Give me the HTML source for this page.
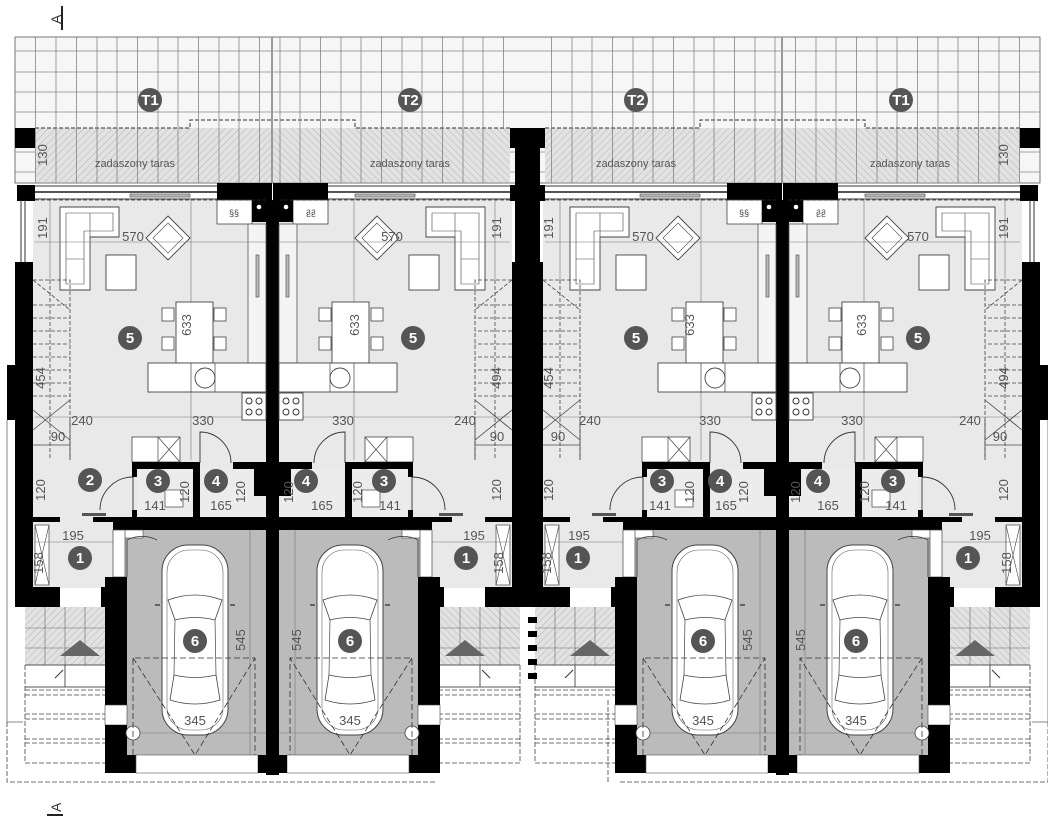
<!DOCTYPE html>
<html><head><meta charset="utf-8"><style>
html,body{margin:0;padding:0;background:#fff;}
svg{display:block;}
text{font-family:"Liberation Sans",sans-serif;}
.d{font-size:13px;fill:#555;}
.n{font-size:15px;font-weight:bold;fill:#fff;}
</style></head><body>
<svg width="1048" height="824" viewBox="0 0 1048 824" xmlns="http://www.w3.org/2000/svg">
<defs>
<pattern id="h" width="5" height="5" patternUnits="userSpaceOnUse" patternTransform="rotate(45)">
<rect width="5" height="5" fill="#e2e2e2"/><line x1="0" y1="0" x2="0" y2="5" stroke="#aaa" stroke-width="0.8"/></pattern>
<g id="u">
 <rect x="35" y="128" width="237" height="54" fill="url(#h)"/>
 <path d="M35,128 H190 V120 H272" fill="none" stroke="#333" stroke-dasharray="4,2" stroke-width="1"/>
 <rect x="15" y="128" width="20" height="20" fill="#000"/>
 <rect x="33" y="200" width="235" height="320" fill="#e9e9e9"/>
 <rect x="33" y="520" width="80" height="68" fill="#e9e9e9"/>
 <rect x="17" y="185" width="18" height="16" fill="#000"/>
 <line x1="35" y1="186" x2="217" y2="186" stroke="#333"/>
 <line x1="35" y1="192" x2="217" y2="192" stroke="#555" stroke-width="2"/>
 <line x1="35" y1="199" x2="217" y2="199" stroke="#333"/>
 <rect x="130" y="194" width="60" height="3" fill="#bbb" stroke="#444" stroke-width="0.6"/>
 <rect x="217" y="183" width="55" height="17" fill="#000"/>
 <line x1="21" y1="200" x2="21" y2="262" stroke="#333"/>
 <line x1="25" y1="200" x2="25" y2="262" stroke="#333"/>
 <rect x="15" y="262" width="18" height="345" fill="#000"/>
 <rect x="7" y="365" width="9" height="55" fill="#000"/>
 <rect x="266" y="200" width="7" height="575" fill="#000"/>
 <rect x="217" y="200" width="35" height="24" fill="#fff" stroke="#444" stroke-width="0.8"/>
 <text x="229" y="216" font-size="9" fill="#444">§§</text>
 <rect x="252" y="200" width="14" height="22" fill="#000"/>
 <circle cx="259" cy="207" r="2.3" fill="#fff"/>
 <rect x="248" y="224" width="18" height="139" fill="#f4f4f4" stroke="#555" stroke-width="0.8"/>
 <rect x="256" y="255" width="3" height="42" fill="#bbb" stroke="#444" stroke-width="0.6"/>
 <path d="M60,207 H119 V237 H90 V290 H60 Z" fill="#fff" stroke="#444" stroke-width="0.9"/>
 <path d="M66,213 H113 V231 H84 V284 H66 Z" fill="#fff" stroke="#444" stroke-width="0.6"/>
 <line x1="90" y1="213" x2="90" y2="237" stroke="#444" stroke-width="0.6"/>
 <line x1="66" y1="259" x2="84" y2="259" stroke="#444" stroke-width="0.6"/>
 <rect x="106" y="255" width="30" height="35" fill="#fff" stroke="#444" stroke-width="0.9"/>
 <path d="M168,216 L190,238 L168,260 L146,238 Z" fill="#fff" stroke="#444" stroke-width="0.9"/>
 <path d="M168,223 L183,238 L168,253 L153,238 Z" fill="none" stroke="#444" stroke-width="0.6"/>
 <line x1="35" y1="242" x2="266" y2="242" stroke="#777" stroke-width="0.6"/>
 <line x1="50" y1="200" x2="50" y2="280" stroke="#777" stroke-width="0.6"/>
 <line x1="191" y1="200" x2="191" y2="460" stroke="#777" stroke-width="0.6"/>
 <line x1="35" y1="417" x2="266" y2="417" stroke="#777" stroke-width="0.6"/>
 <line x1="35" y1="200" x2="266" y2="200" stroke="#333" stroke-dasharray="4,2" stroke-width="0.7"/>
 <rect x="176" y="302" width="37" height="61" fill="#fff" stroke="#444" stroke-width="0.9"/>
 <rect x="162" y="308" width="12" height="13" fill="#fff" stroke="#444" stroke-width="0.8"/>
 <rect x="162" y="337" width="12" height="13" fill="#fff" stroke="#444" stroke-width="0.8"/>
 <rect x="214" y="308" width="12" height="13" fill="#fff" stroke="#444" stroke-width="0.8"/>
 <rect x="214" y="337" width="12" height="13" fill="#fff" stroke="#444" stroke-width="0.8"/>
 <rect x="148" y="363" width="118" height="29" fill="#fff" stroke="#444" stroke-width="0.9"/>
 <line x1="191" y1="363" x2="191" y2="392" stroke="#444" stroke-width="0.7"/>
 <line x1="215" y1="363" x2="215" y2="392" stroke="#444" stroke-width="0.7"/>
 <circle cx="205" cy="378" r="10" fill="#fff" stroke="#444" stroke-width="0.9"/>
 <rect x="242" y="393" width="24" height="27" fill="#fff" stroke="#444" stroke-width="0.9"/>
 <circle cx="249" cy="401" r="3" fill="none" stroke="#333"/><circle cx="259" cy="401" r="3" fill="none" stroke="#333"/>
 <circle cx="249" cy="412" r="3" fill="none" stroke="#333"/><circle cx="259" cy="412" r="3" fill="none" stroke="#333"/>
 <g stroke="#444" stroke-width="0.8" stroke-dasharray="4,2" fill="none">
  <path d="M33,280 H70 V460"/>
  <line x1="50" y1="280" x2="50" y2="460"/>
  <line x1="33" y1="305" x2="70" y2="305"/><line x1="33" y1="318" x2="70" y2="318"/>
  <line x1="33" y1="331" x2="70" y2="331"/><line x1="33" y1="344" x2="70" y2="344"/>
  <line x1="33" y1="357" x2="70" y2="357"/><line x1="33" y1="370" x2="70" y2="370"/>
  <line x1="33" y1="383" x2="70" y2="383"/><line x1="33" y1="396" x2="70" y2="396"/>
  <line x1="33" y1="280" x2="70" y2="310"/>
 </g>
 <g stroke="#444" stroke-width="0.8" fill="none">
  <line x1="33" y1="430" x2="70" y2="400"/><line x1="33" y1="410" x2="70" y2="440"/>
  <line x1="33" y1="445" x2="70" y2="445"/><line x1="70" y1="420" x2="70" y2="460"/>
 </g>
 <rect x="132" y="437" width="48" height="25" fill="#fff" stroke="#444" stroke-width="0.8"/>
 <path d="M158,437 V462 M158,437 L180,462 M180,437 L158,462" stroke="#444" stroke-width="0.7"/>
 <rect x="132" y="462" width="68" height="7" fill="#000"/>
 <rect x="132" y="462" width="5" height="15" fill="#000"/>
 <rect x="132" y="510" width="5" height="10" fill="#000"/>
 <rect x="193" y="462" width="7" height="58" fill="#000"/>
 <rect x="233" y="462" width="33" height="7" fill="#000"/>
 <rect x="137" y="469" width="56" height="48" fill="#ececec"/>
 <rect x="200" y="469" width="66" height="48" fill="#ececec"/>
 <rect x="165" y="490" width="18" height="17" fill="#fff" stroke="#444" stroke-width="0.7"/>
 <rect x="254" y="466" width="12" height="30" fill="#000"/>
 <path d="M100,510 A33,33 0 0 1 133,477 M133,477 V510" fill="none" stroke="#333" stroke-width="0.9"/>
 <path d="M200,463 V432 A31,31 0 0 1 231,463" fill="none" stroke="#333" stroke-width="0.9"/>
 <rect x="33" y="517" width="27" height="5" fill="#000"/>
 <rect x="93" y="517" width="20" height="5" fill="#000"/>
 <rect x="82" y="513" width="24" height="3" fill="#555"/>
 <rect x="113" y="517" width="160" height="13" fill="#000"/>
 <rect x="35" y="525" width="14" height="60" fill="#fff" stroke="#444" stroke-width="0.7"/>
 <path d="M35,525 L49,585 M49,525 L35,585" stroke="#444" stroke-width="0.6"/>
 <line x1="35" y1="542" x2="113" y2="542" stroke="#777" stroke-width="0.6"/>
 <rect x="125" y="530" width="141" height="225" fill="#bbbbbb"/>
 <rect x="123" y="530" width="20" height="8" fill="#fff" stroke="#444" stroke-width="0.6"/>
 <rect x="113" y="530" width="12" height="47" fill="#fff" stroke="#444" stroke-width="0.7"/>
 <path d="M127,577 L127,540 A33,33 0 0 1 157,540" fill="none" stroke="#333" stroke-width="0.8"/>
 <rect x="105" y="577" width="22" height="128" fill="#000"/>
 <rect x="105" y="705" width="22" height="20" fill="#fff" stroke="#444" stroke-width="0.6"/>
 <rect x="105" y="725" width="22" height="48" fill="#000"/>
 <rect x="127" y="755" width="9" height="18" fill="#000"/>
 <rect x="136" y="755" width="122" height="18" fill="#fff" stroke="#555" stroke-width="0.6"/>
 <rect x="258" y="755" width="15" height="18" fill="#000"/>
 <line x1="133" y1="733" x2="266" y2="733" stroke="#777" stroke-width="0.6"/>
 <line x1="250" y1="530" x2="250" y2="755" stroke="#777" stroke-width="0.6"/>
 <circle cx="133" cy="733" r="7" fill="#fff" stroke="#444" stroke-width="0.8"/>
 <rect x="162" y="545" width="66" height="190" rx="26" fill="#fff" stroke="#444" stroke-width="1"/>
 <rect x="167" y="550" width="56" height="180" rx="22" fill="none" stroke="#666" stroke-width="0.6"/>
 <path d="M168,600 Q195,590 222,600 L215,620 Q195,615 175,620 Z" fill="#fff" stroke="#444" stroke-width="0.8"/>
 <path d="M174,675 Q195,680 216,675 L220,700 Q195,708 170,700 Z" fill="#fff" stroke="#444" stroke-width="0.8"/>
 <line x1="175" y1="620" x2="174" y2="675" stroke="#444" stroke-width="0.7"/>
 <line x1="215" y1="620" x2="216" y2="675" stroke="#444" stroke-width="0.7"/>
 <path d="M160,605 h-5 M230,605 h5" stroke="#444" stroke-width="1.5"/>
 <g stroke="#333" stroke-width="0.8" stroke-dasharray="6,3" fill="none">
  <path d="M133,755 V658 H255 V755"/>
  <path d="M133,658 L195,755 L255,658"/>
 </g>
 <rect x="15" y="587" width="45" height="20" fill="#000"/>
 <rect x="101" y="587" width="12" height="20" fill="#000"/>
 <path d="M60,607 A42,42 0 0 0 102,640 V607" fill="none" stroke="#333" stroke-width="0.8"/>
 <rect x="25" y="607" width="80" height="58" fill="url(#h)"/>
 <g stroke="#666" stroke-width="0.6"><line x1="25" y1="628" x2="105" y2="628"/><line x1="25" y1="648" x2="105" y2="648"/>
 <line x1="45" y1="607" x2="45" y2="665"/><line x1="65" y1="607" x2="65" y2="665"/><line x1="85" y1="607" x2="85" y2="665"/></g>
 <path d="M60,656 L100,656 L80,640 Z" fill="#666"/>
 <line x1="25" y1="665" x2="105" y2="665" stroke="#555"/>
 <line x1="25" y1="687" x2="105" y2="687" stroke="#555"/>
 <line x1="65" y1="665" x2="65" y2="687" stroke="#555"/>
 <line x1="55" y1="678" x2="63" y2="670" stroke="#333"/>
 <g stroke="#444" stroke-width="0.8" stroke-dasharray="5,2" fill="none">
  <line x1="25" y1="690" x2="105" y2="690"/><line x1="25" y1="695" x2="105" y2="695"/>
  <line x1="25" y1="714" x2="105" y2="714"/><line x1="25" y1="719" x2="105" y2="719"/>
  <line x1="25" y1="739" x2="105" y2="739"/><line x1="25" y1="743" x2="105" y2="743"/>
  <path d="M25,665 V763 H105"/>
 </g>
</g>
<g id="pair">
 <use href="#u"/>
 <use href="#u" transform="translate(545,0) scale(-1,1)"/>
 <rect x="515" y="128" width="12.5" height="477" fill="#000"/>
</g>
</defs>

<rect x="15" y="37" width="1025" height="146" fill="#f6f6f6" stroke="#555" stroke-width="0.8"/>
<g stroke="#888" stroke-width="0.7">
<line x1="15" y1="51" x2="1040" y2="51"/><line x1="15" y1="72" x2="1040" y2="72"/><line x1="15" y1="92" x2="1040" y2="92"/><line x1="15" y1="112" x2="1040" y2="112"/><line x1="15" y1="132" x2="1040" y2="132"/><line x1="15" y1="152" x2="1040" y2="152"/><line x1="15" y1="172" x2="1040" y2="172"/>
</g>
<use href="#pair"/>
<use href="#pair" transform="translate(1055,0) scale(-1,1)"/>
<g stroke="#999" stroke-width="1.2" fill="none">
 <line x1="7" y1="420" x2="7" y2="722"/><line x1="7" y1="722" x2="23" y2="722"/>
 <line x1="1048" y1="420" x2="1048" y2="722"/><line x1="1048" y1="722" x2="1032" y2="722"/>
</g>
<g stroke="#444" stroke-width="0.8" stroke-dasharray="5,2" fill="none">
 <path d="M7,722 V782 H437"/>
 <path d="M1048,722 V782 H618"/>
 <path d="M608,700 V782"/>
</g>
<g stroke="#777" stroke-width="0.7">
<line x1="35.5" y1="37" x2="35.5" y2="183"/><line x1="56" y1="37" x2="56" y2="183"/><line x1="76.5" y1="37" x2="76.5" y2="183"/><line x1="97" y1="37" x2="97" y2="183"/><line x1="117" y1="37" x2="117" y2="183"/><line x1="137.5" y1="37" x2="137.5" y2="183"/><line x1="158" y1="37" x2="158" y2="183"/><line x1="178" y1="37" x2="178" y2="183"/><line x1="198.5" y1="37" x2="198.5" y2="183"/><line x1="219" y1="37" x2="219" y2="183"/><line x1="239" y1="37" x2="239" y2="183"/><line x1="259.5" y1="37" x2="259.5" y2="183"/><line x1="280" y1="37" x2="280" y2="183"/><line x1="300" y1="37" x2="300" y2="183"/><line x1="320.5" y1="37" x2="320.5" y2="183"/><line x1="341" y1="37" x2="341" y2="183"/><line x1="361" y1="37" x2="361" y2="183"/><line x1="381.5" y1="37" x2="381.5" y2="183"/><line x1="402" y1="37" x2="402" y2="183"/><line x1="422" y1="37" x2="422" y2="183"/><line x1="442.5" y1="37" x2="442.5" y2="183"/><line x1="463" y1="37" x2="463" y2="183"/><line x1="483" y1="37" x2="483" y2="183"/><line x1="503.5" y1="37" x2="503.5" y2="128"/>
<line x1="551.5" y1="37" x2="551.5" y2="183"/><line x1="572" y1="37" x2="572" y2="183"/><line x1="592" y1="37" x2="592" y2="183"/><line x1="612.5" y1="37" x2="612.5" y2="183"/><line x1="633" y1="37" x2="633" y2="183"/><line x1="653" y1="37" x2="653" y2="183"/><line x1="673.5" y1="37" x2="673.5" y2="183"/><line x1="694" y1="37" x2="694" y2="183"/><line x1="714" y1="37" x2="714" y2="183"/><line x1="734.5" y1="37" x2="734.5" y2="183"/><line x1="755" y1="37" x2="755" y2="183"/><line x1="775" y1="37" x2="775" y2="183"/><line x1="795.5" y1="37" x2="795.5" y2="183"/><line x1="816" y1="37" x2="816" y2="183"/><line x1="836" y1="37" x2="836" y2="183"/><line x1="856.5" y1="37" x2="856.5" y2="183"/><line x1="877" y1="37" x2="877" y2="183"/><line x1="897" y1="37" x2="897" y2="183"/><line x1="917.5" y1="37" x2="917.5" y2="183"/><line x1="938" y1="37" x2="938" y2="183"/><line x1="958" y1="37" x2="958" y2="183"/><line x1="978.5" y1="37" x2="978.5" y2="183"/><line x1="999" y1="37" x2="999" y2="183"/><line x1="1019.5" y1="37" x2="1019.5" y2="183"/>
</g>
<g stroke="#999" stroke-width="2"><line x1="272" y1="37" x2="272" y2="183"/><line x1="782" y1="37" x2="782" y2="183"/></g>
<rect x="515" y="128" width="25" height="477" fill="#000"/>
<g fill="#000"><rect x="528" y="617" width="9" height="6"/><rect x="528" y="631" width="9" height="6"/><rect x="528" y="645" width="9" height="6"/><rect x="528" y="659" width="9" height="6"/><rect x="528" y="673" width="9" height="6"/></g>

<text x="0" y="0" font-size="14" fill="#333" transform="translate(61,24) rotate(-90)">A</text>
<rect x="61" y="6" width="2" height="24" fill="#222"/>
<text x="0" y="0" font-size="14" fill="#333" transform="translate(61,812) rotate(-90)">A</text>
<rect x="47" y="814" width="16" height="2" fill="#222"/>

<g fill="#555">
<circle cx="150" cy="100" r="12"/><circle cx="410" cy="100" r="12"/><circle cx="636" cy="100" r="12"/><circle cx="901" cy="100" r="12"/>
<circle cx="130" cy="338" r="12"/><circle cx="413" cy="338" r="12"/><circle cx="636" cy="338" r="12"/><circle cx="918" cy="338" r="12"/>
<circle cx="90" cy="480" r="12"/>
<circle cx="158" cy="481" r="12"/><circle cx="216" cy="481" r="12"/><circle cx="306" cy="481" r="12"/><circle cx="384" cy="481" r="12"/>
<circle cx="662" cy="481" r="12"/><circle cx="720" cy="481" r="12"/><circle cx="818" cy="481" r="12"/><circle cx="893" cy="481" r="12"/>
<circle cx="80" cy="558" r="12"/><circle cx="466" cy="558" r="12"/><circle cx="578" cy="558" r="12"/><circle cx="968" cy="558" r="12"/>
<circle cx="195" cy="641" r="12"/><circle cx="350" cy="641" r="12"/><circle cx="703" cy="641" r="12"/><circle cx="856" cy="641" r="12"/>
</g>
<g class="n" text-anchor="middle">
<text x="150" y="105">T1</text><text x="410" y="105">T2</text><text x="636" y="105">T2</text><text x="901" y="105">T1</text>
<text x="130" y="343">5</text><text x="413" y="343">5</text><text x="636" y="343">5</text><text x="918" y="343">5</text>
<text x="90" y="485">2</text>
<text x="158" y="486">3</text><text x="216" y="486">4</text><text x="306" y="486">4</text><text x="384" y="486">3</text>
<text x="662" y="486">3</text><text x="720" y="486">4</text><text x="818" y="486">4</text><text x="893" y="486">3</text>
<text x="80" y="563">1</text><text x="466" y="563">1</text><text x="578" y="563">1</text><text x="968" y="563">1</text>
<text x="195" y="646">6</text><text x="350" y="646">6</text><text x="703" y="646">6</text><text x="856" y="646">6</text>
</g>

<g class="d" text-anchor="middle" font-size="12">
<text x="135" y="167" font-size="11">zadaszony taras</text><text x="410" y="167" font-size="11">zadaszony taras</text>
<text x="636" y="167" font-size="11">zadaszony taras</text><text x="910" y="167" font-size="11">zadaszony taras</text>
<text x="133" y="241">570</text><text x="392" y="241">570</text><text x="643" y="241">570</text><text x="918" y="241">570</text>
<text x="82" y="425">240</text><text x="203" y="425">330</text><text x="343" y="425">330</text><text x="465" y="425">240</text>
<text x="590" y="425">240</text><text x="710" y="425">330</text><text x="852" y="425">330</text><text x="970" y="425">240</text>
<text x="58" y="441">90</text><text x="497" y="441">90</text><text x="558" y="441">90</text><text x="1000" y="441">90</text>
<text x="155" y="510">141</text><text x="221" y="510">165</text><text x="322" y="510">165</text><text x="390" y="510">141</text>
<text x="660" y="510">141</text><text x="726" y="510">165</text><text x="828" y="510">165</text><text x="896" y="510">141</text>
<text x="73" y="540">195</text><text x="474" y="540">195</text><text x="579" y="540">195</text><text x="980" y="540">195</text>
<text x="195" y="725">345</text><text x="350" y="725">345</text><text x="703" y="725">345</text><text x="856" y="725">345</text>
</g>
<g class="d" text-anchor="middle" font-size="12">
<text transform="translate(47,155) rotate(-90)">130</text><text transform="translate(1008,155) rotate(-90)">130</text>
<text transform="translate(47,228) rotate(-90)">191</text><text transform="translate(501,228) rotate(-90)">191</text><text transform="translate(553,228) rotate(-90)">191</text><text transform="translate(1008,228) rotate(-90)">191</text>
<text transform="translate(191,325) rotate(-90)">633</text><text transform="translate(359,325) rotate(-90)">633</text><text transform="translate(694,325) rotate(-90)">633</text><text transform="translate(866,325) rotate(-90)">633</text>
<text transform="translate(45,378) rotate(-90)">454</text><text transform="translate(501,378) rotate(-90)">494</text><text transform="translate(553,378) rotate(-90)">454</text><text transform="translate(1008,378) rotate(-90)">494</text>
<text transform="translate(45,490) rotate(-90)">120</text><text transform="translate(189,492) rotate(-90)">120</text><text transform="translate(245,492) rotate(-90)">120</text><text transform="translate(293,492) rotate(-90)">120</text><text transform="translate(362,492) rotate(-90)">120</text><text transform="translate(501,490) rotate(-90)">120</text>
<text transform="translate(553,490) rotate(-90)">120</text><text transform="translate(694,492) rotate(-90)">120</text><text transform="translate(748,492) rotate(-90)">120</text><text transform="translate(800,492) rotate(-90)">120</text><text transform="translate(869,492) rotate(-90)">120</text><text transform="translate(1008,490) rotate(-90)">120</text>
<text transform="translate(43,563) rotate(-90)">158</text><text transform="translate(503,563) rotate(-90)">158</text><text transform="translate(551,563) rotate(-90)">158</text><text transform="translate(1011,563) rotate(-90)">158</text>
<text transform="translate(245,640) rotate(-90)">545</text><text transform="translate(301,640) rotate(-90)">545</text><text transform="translate(752,640) rotate(-90)">545</text><text transform="translate(805,640) rotate(-90)">545</text>
</g>
</svg>
</body></html>
